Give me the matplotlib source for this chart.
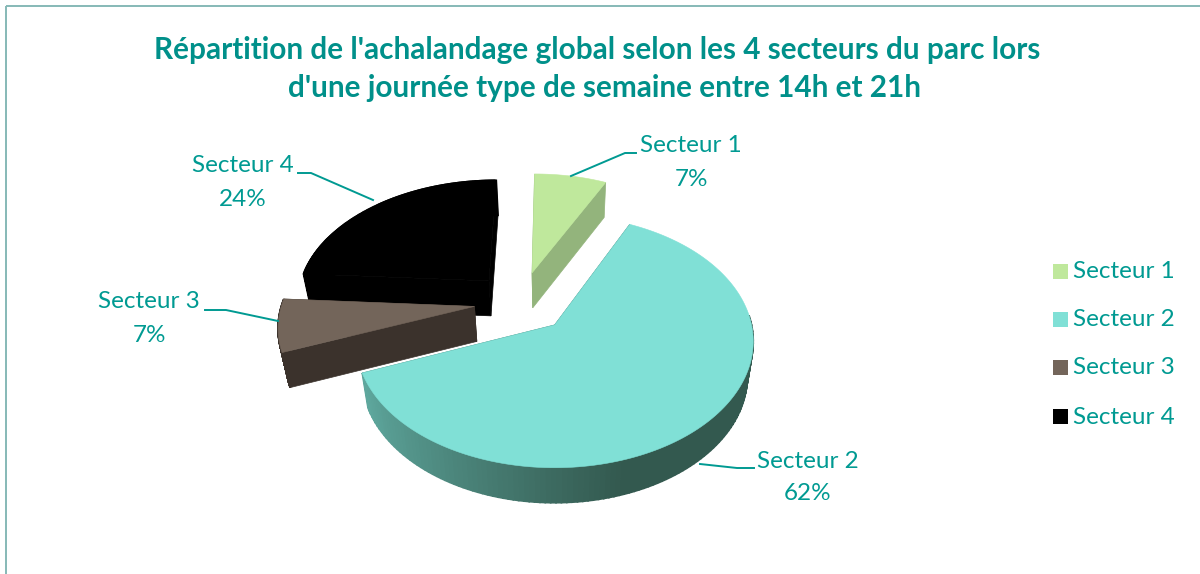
import numpy as np
import matplotlib
matplotlib.use("Agg")
import matplotlib.pyplot as plt
from matplotlib.patches import Polygon, Rectangle

title_lines = ["Répartition de l'achalandage global selon les 4 secteurs du parc lors",
               "d'une journée type de semaine entre 14h et 21h"]
sectors = ["Secteur 1", "Secteur 2", "Secteur 3", "Secteur 4"]
shares = [7, 62, 7, 24]
top_colors = ["#bfe89c", "#80e0d6", "#73655a", "#000000"]
side_colors = ["#93b47c", "#3f7a70", "#3b322c", "#000000"]
explode = [0.26, 0.26, 0.24, 0.25]

TEAL = "#009a92"
TITLE = "#00908a"
FONT = "Lato"
W, H = 1200, 574

fig = plt.figure(figsize=(W / 100, H / 100), dpi=100)
ax = fig.add_axes([0, 0, 1, 1])
ax.set_xlim(0, W)
ax.set_ylim(H, 0)
ax.axis("off")

# perspective projection of the pie's disk onto the page
X0, Y0, RX, TILT, PERSP = 555.0, 325.0, 197.0, -82.0, 0.13
CENTER = np.array([-0.18, 0.19])
DEPTH, SHRINK = 35.0, 0.97


def project(u, v, low=False):
    den = 1 + PERSP * v
    x = X0 + RX * u / den
    y = (TILT * v + Y0) / den
    if low:
        x = X0 + (x - X0) * SHRINK
        y = y + DEPTH
    return x, y


def lerp(c1, c2, t):
    a, b = matplotlib.colors.to_rgb(c1), matplotlib.colors.to_rgb(c2)
    return tuple(a[i] + (b[i] - a[i]) * t for i in range(3))


angles = np.cumsum([0] + shares) * 3.6
geom = []
for i in range(4):
    a0, a1 = np.radians(angles[i]), np.radians(angles[i + 1])
    mid = (a0 + a1) / 2
    apex = CENTER + explode[i] * np.array([np.sin(mid), np.cos(mid)])
    th = np.linspace(a0, a1, 160)
    geom.append((apex, th, apex[0] + np.sin(th), apex[1] + np.cos(th)))

for i in [3, 2, 0, 1]:
    apex, th, u, v = geom[i]
    xt, yt = project(u, v)
    xb, yb = project(u, v, low=True)
    ax_, ay_ = project(apex[0], apex[1])
    bx_, by_ = project(apex[0], apex[1], low=True)
    # cut faces
    for k in (0, -1):
        ax.add_patch(Polygon([(ax_, ay_), (xt[k], yt[k]), (xb[k], yb[k]), (bx_, by_)],
                             closed=True, fc=side_colors[i], ec=side_colors[i], lw=0.5))
    # outer rim, only where it faces the viewer (the black sector shows its whole edge)
    for k in range(len(u) - 1):
        if i != 3 and np.cos(th[k]) > 0.1:
            continue
        if i == 1:
            t = np.clip((xt[k] - 365) / 260, 0, 1)
            col = lerp("#5ea79d", "#33594f", t ** 0.8)
        else:
            col = side_colors[i]
        ax.add_patch(Polygon([(xt[k], yt[k]), (xt[k + 1], yt[k + 1]), (xb[k + 1], yb[k + 1]), (xb[k], yb[k])],
                             closed=True, fc=col, ec=col, lw=1.2))
    # top face
    ax.add_patch(Polygon(np.column_stack([np.r_[ax_, xt], np.r_[ay_, yt]]), closed=True,
                         fc=top_colors[i], ec=top_colors[i], lw=0.4))

# frame
ax.plot([6, 6], [H, 6], color="#86b9b7", lw=1.4, solid_capstyle="butt")
ax.plot([6, W], [6, 6], color="#86b9b7", lw=1.4, solid_capstyle="butt")

# title
ax.text(597.5, 49.5, title_lines[0], ha="center", va="center", color=TITLE,
        fontsize=21.4, fontweight="bold", family=FONT)
ax.text(604, 88, title_lines[1], ha="center", va="center", color=TITLE,
        fontsize=21.4, fontweight="bold", family=FONT)

# data labels and leaders
label_pos = [(691, 146, 179), (808, 461, 494), (149, 302, 335), (243, 166, 199)]
leaders = [[(571, 176), (625, 153), (636, 153)],
           [(700, 464), (737, 468), (754, 468)],
           [(278, 321), (226, 310), (205, 310)],
           [(373, 200), (311, 173), (298, 173)]]
for name, val, (x, y1, y2), pts in zip(sectors, shares, label_pos, leaders):
    ax.text(x, y1, name, ha="center", va="center", color=TEAL, fontsize=17.5, family=FONT)
    ax.text(x, y2, f"{val}%", ha="center", va="center", color=TEAL, fontsize=17.5, family=FONT)
    ax.plot(*zip(*pts), color=TEAL, lw=1.4, solid_joinstyle="round")

# legend
for name, col, y in zip(sectors, top_colors, [271, 319, 367, 416]):
    ax.add_patch(Rectangle((1053, y - 7.5), 15, 15, fc=col, ec="none"))
    ax.text(1073, y + 1, name, ha="left", va="center", color=TEAL, fontsize=17.5, family=FONT)

fig.savefig("out.png", dpi=100, facecolor="white")
